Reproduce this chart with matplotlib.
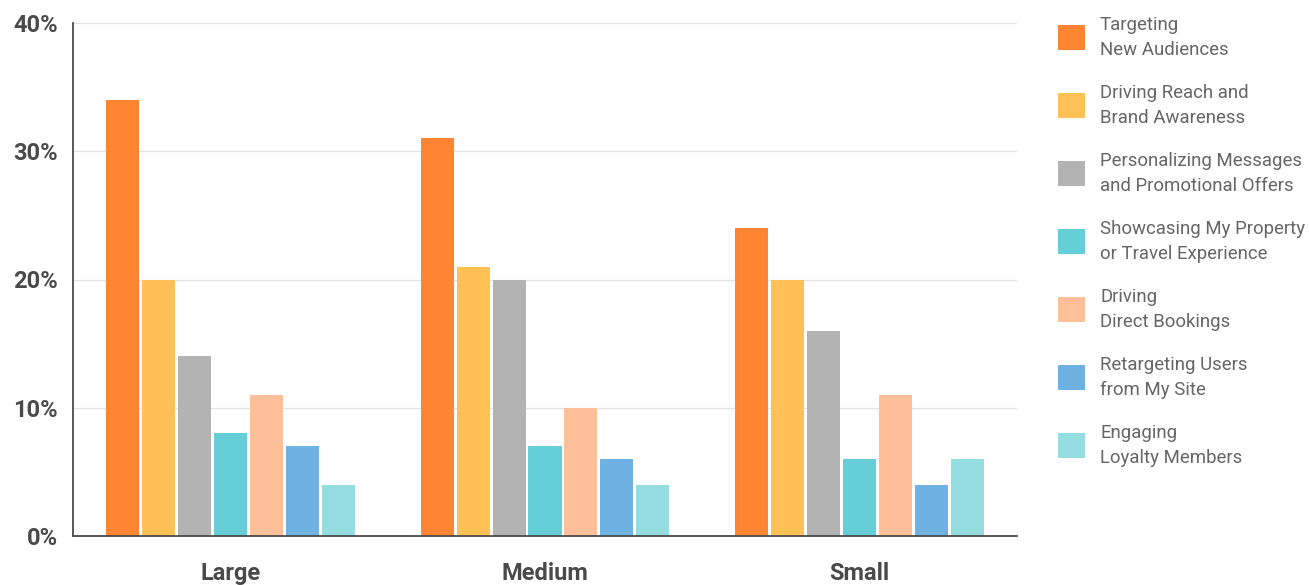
import matplotlib.pyplot as plt
import numpy as np
from matplotlib.patches import Rectangle

plt.rcParams['font.family'] = ['Roboto', 'DejaVu Sans']

# Data
groups = ['Large', 'Medium', 'Small']
series = [
    'Targeting\nNew Audiences',
    'Driving Reach and\nBrand Awareness',
    'Personalizing Messages\nand Promotional Offers',
    'Showcasing My Property\nor Travel Experience',
    'Driving\nDirect Bookings',
    'Retargeting Users\nfrom My Site',
    'Engaging\nLoyalty Members',
]
values = [
    [34, 31, 24],
    [20, 21, 20],
    [14, 20, 16],
    [8, 7, 6],
    [11, 10, 11],
    [7, 6, 4],
    [4, 4, 6],
]
colors = ['#FF8533', '#FFC056', '#B3B3B3', '#66CED6', '#FFBF99', '#70B1E3', '#96DDE2']
yticks = [0, 10, 20, 30, 40]

W, H = 1309, 585
fig = plt.figure(figsize=(W / 100, H / 100), dpi=100)
ax = fig.add_axes([73 / W, 1 - 536 / H, (1017 - 73) / W, (536 - 23) / H])

x = np.arange(len(groups))
step = 0.1143
width = 0.105
for i, (vals, c) in enumerate(zip(values, colors)):
    offset = (i - (len(values) - 1) / 2) * step
    ax.bar(x + offset, vals, width=width, color=c, zorder=2)

ax.set_xlim(-0.5, 2.5)
ax.set_ylim(0, 40)
ax.set_yticks(yticks)
ax.set_yticklabels([f'{v}%' for v in yticks])
ax.set_xticks(x)
ax.set_xticklabels(groups)

ax.grid(axis='y', color='#E3E3E3', linewidth=1, zorder=0)
ax.tick_params(axis='both', length=0, labelsize=17, colors='#4A4A4A')
ax.tick_params(axis='y', pad=11)
ax.tick_params(axis='x', pad=19)
for lab in ax.get_xticklabels() + ax.get_yticklabels():
    lab.set_fontweight('bold')

for side in ['top', 'right']:
    ax.spines[side].set_visible(False)
for side in ['left', 'bottom']:
    ax.spines[side].set_color('#4A4A4A')
    ax.spines[side].set_linewidth(1.3)

# legend drawn by hand to match the spacing of the original
pitch = 68
for i, (label, c) in enumerate(zip(series, colors)):
    yc = 37.5 + i * pitch
    fig.add_artist(Rectangle((1058 / W, 1 - (yc + 12.5) / H), 27 / W, 25 / H,
                             transform=fig.transFigure, facecolor=c, edgecolor='none'))
    fig.text(1100 / W, 1 - yc / H, label, ha='left', va='center', fontsize=13.4,
             color='#666666', linespacing=1.55)

fig.savefig('out.png', dpi=100, facecolor='white')
